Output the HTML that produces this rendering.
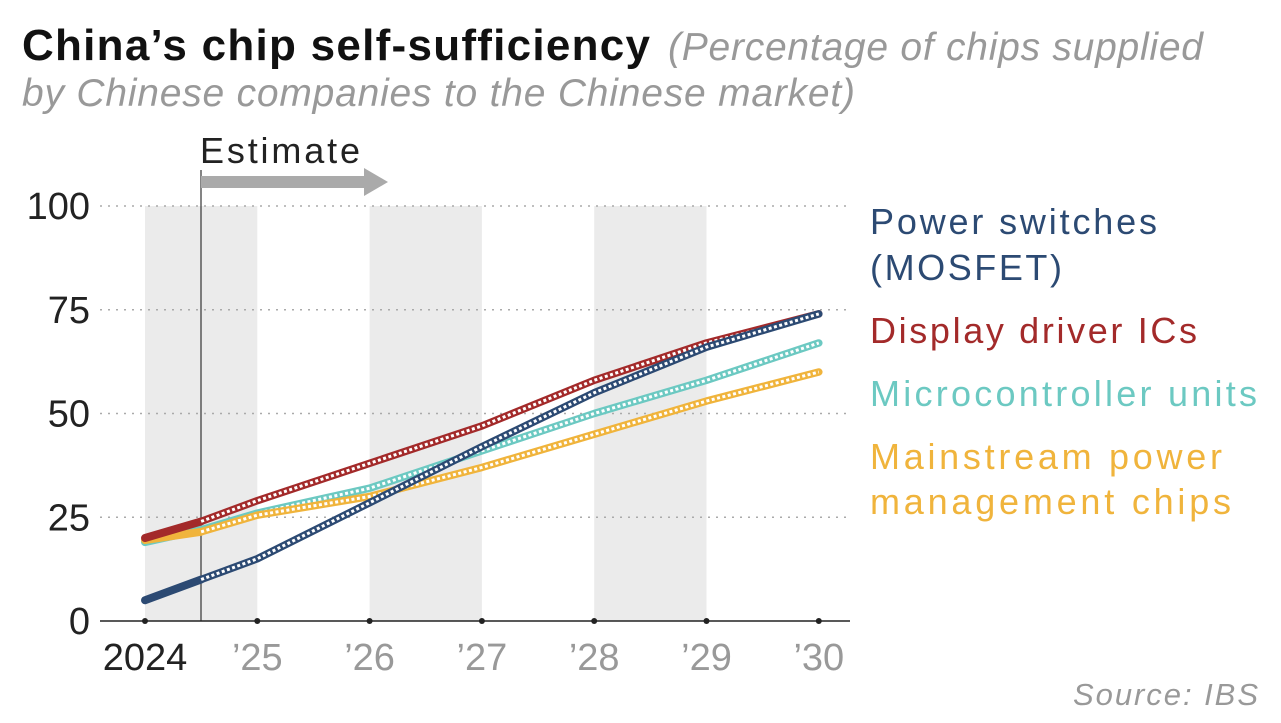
<!DOCTYPE html>
<html><head><meta charset="utf-8"><style>
body{margin:0;background:#fff;width:1281px;height:723px;overflow:hidden;font-family:"Liberation Sans",sans-serif}
</style></head><body>
<svg width="1281" height="723" style="position:absolute;left:0;top:0">
<text x="22" y="60" font-size="44" font-weight="bold" fill="#111" textLength="628">China’s chip self-sufficiency</text>
<text x="668" y="60" font-size="39" font-style="italic" fill="#999" textLength="535">(Percentage of chips supplied</text>
<text x="22" y="106" font-size="39" font-style="italic" fill="#999" textLength="833">by Chinese companies to the Chinese market)</text>
<text x="200" y="163" font-size="36" fill="#222" textLength="160">Estimate</text>
<g id="bands"></g><g id="grid"></g>
<line x1="201" y1="170" x2="201" y2="621" stroke="#333" stroke-width="1.2"/>
<path d="M201,176 H364 V168 L388,182 L364,196 V188 H201 Z" fill="#aaa"/>
<g id="axes"></g><g id="lines"></g>
<text x="870" y="234" font-size="36" fill="#2c4a73" textLength="287">Power switches</text>
<text x="870" y="280" font-size="36" fill="#2c4a73" textLength="192">(MOSFET)</text>
<text x="870" y="343" font-size="36" fill="#a32a2a" textLength="327">Display driver ICs</text>
<text x="870" y="406" font-size="36" fill="#6cc9c2" textLength="387">Microcontroller units</text>
<text x="870" y="469" font-size="36" fill="#f0b43c" textLength="352">Mainstream power</text>
<text x="870" y="514" font-size="36" fill="#f0b43c" textLength="361">management chips</text>
<text x="1073" y="705" font-size="31" font-style="italic" fill="#999" textLength="185">Source: IBS</text>
</svg>
<script>
const years=[2024,2024.5,2025,2026,2027,2028,2029,2030];
const mosfet=[5,10,15,28.5,42,55,66,74];
const display=[20,24,29,38,47,58,67,74];
const mcu=[19,22,26,32,41,50,58,67];
const pmic=[19.5,21.5,25.5,30,37,45,53,60];
const yTicks=[0,25,50,75,100];
const xLabels=['2024','’25','’26','’27','’28','’29','’30'];
const NS='http://www.w3.org/2000/svg';
const X=v=>145+(v-2024)*112.3;
const Y=v=>621-v*4.15;
function mk(p,t,a){const e=document.createElementNS(NS,t);for(const k in a)e.setAttribute(k,a[k]);document.getElementById(p).appendChild(e);return e;}
[2024,2026,2028].forEach(y=>{const r=mk('bands','rect',{x:X(y),y:Y(100),width:X(y+1)-X(y),height:Y(0)-Y(100),fill:'#ebebeb'});

});
yTicks.forEach(t=>{if(t>0){const l=mk('grid','line',{x1:100,x2:850,y1:Y(t),y2:Y(t),stroke:'#aaa','stroke-dasharray':'2 6','stroke-width':1.5});

}
const tx=mk('axes','text',{x:90,y:Y(t)+13,'font-size':38,'text-anchor':'end',fill:'#222'});tx.textContent=t;

});
const ax=mk('axes','line',{x1:100,x2:850,y1:Y(0),y2:Y(0),stroke:'#222','stroke-width':1.5});


xLabels.forEach((s,i)=>{const cx=X(2024+i);const d=mk('axes','circle',{cx:cx,cy:Y(0),r:3,fill:'#222'});


const t=mk('axes','text',{x:cx,y:670,'font-size':38,'text-anchor':'middle',fill:i?'#999':'#222'});t.textContent=s;

});
function pts(arr,a,b){return arr.slice(a,b).map((v,i)=>X(years[a+i])+','+Y(v)).join(' ');}
[[mcu,'#6cc9c2','mcu'],[pmic,'#f0b43c','power-mgmt'],[display,'#a32a2a','display'],[mosfet,'#2c4a73','mosfet']].forEach(([arr,c,n])=>{
const s=mk('lines','polyline',{points:pts(arr,0,2),fill:'none',stroke:c,'stroke-width':8,'stroke-linecap':'round','stroke-linejoin':'round'});


const e=mk('lines','polyline',{points:pts(arr,1,8),fill:'none',stroke:c,'stroke-width':7.5,'stroke-linecap':'round','stroke-linejoin':'round'});


const w=mk('lines','polyline',{points:pts(arr,1,8),fill:'none',stroke:'#fff','stroke-width':3,'stroke-dasharray':'3 2.5'});


});
</script>
</body></html>
